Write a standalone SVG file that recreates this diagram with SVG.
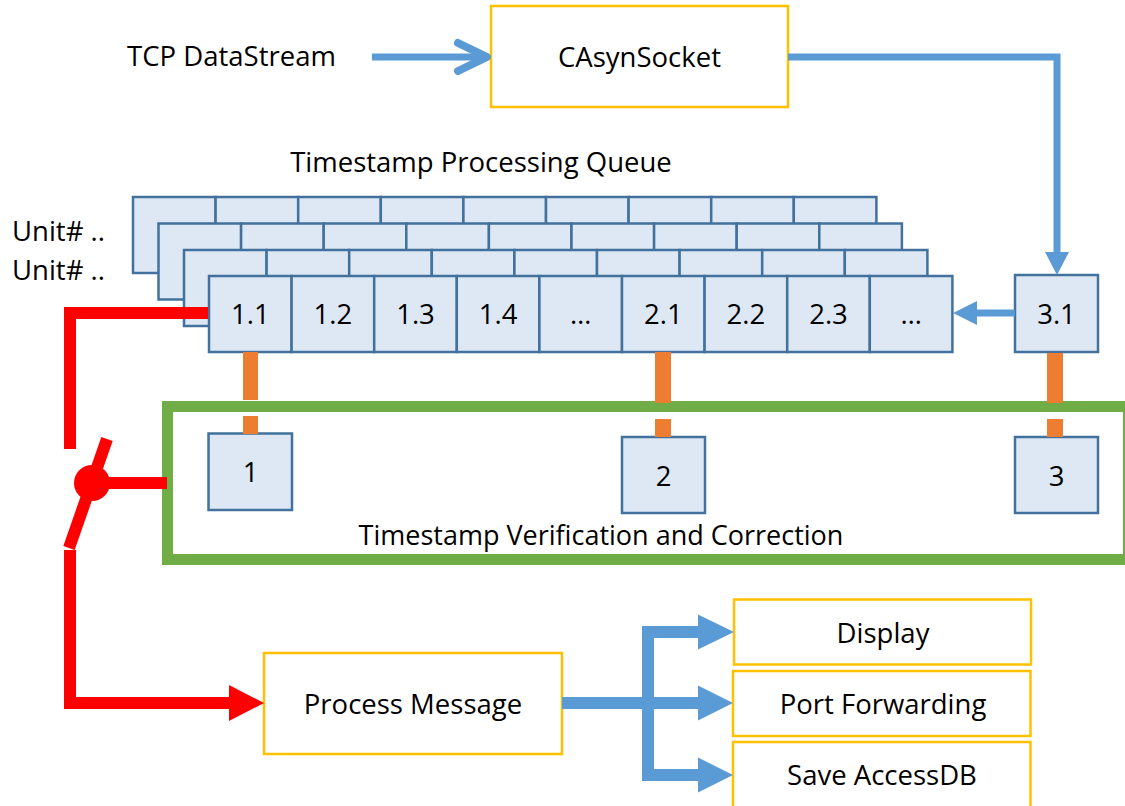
<svg xmlns="http://www.w3.org/2000/svg" width="1125" height="806" viewBox="0 0 1125 806">
  <style>
    text { font-family: "Open Sans", "Noto Sans", "DejaVu Sans", sans-serif; font-size: 27.5px; fill: #000; }
    .mid { text-anchor: middle; }
    .cell { fill: #dee8f4; stroke: #41719c; stroke-width: 2.5; }
    .gold { fill: #fff; stroke: #ffc000; stroke-width: 2.5; }
    .blue { fill: none; stroke: #5b9bd5; stroke-width: 7; }
    .blueFat { fill: none; stroke: #5b9bd5; stroke-width: 12; stroke-linejoin: miter; }
    .blueHead { fill: #5b9bd5; }
    .red { fill: none; stroke: #ff0000; stroke-width: 12; stroke-linejoin: miter; }
    .redFill { fill: #ff0000; }
    .orange { fill: #ed7d31; }
  </style>
  <defs>
    <!-- one layer of the queue: nine cells -->
    <g id="queueRow">
      <rect class="cell" x="0" y="0" width="82.6" height="76"/>
      <rect class="cell" x="82.6" y="0" width="82.6" height="76"/>
      <rect class="cell" x="165.2" y="0" width="82.6" height="76"/>
      <rect class="cell" x="247.8" y="0" width="82.6" height="76"/>
      <rect class="cell" x="330.4" y="0" width="82.6" height="76"/>
      <rect class="cell" x="413" y="0" width="82.6" height="76"/>
      <rect class="cell" x="495.6" y="0" width="82.6" height="76"/>
      <rect class="cell" x="578.2" y="0" width="82.6" height="76"/>
      <rect class="cell" x="660.8" y="0" width="82.6" height="76"/>
    </g>
  </defs>

  <rect width="1125" height="806" fill="#fff"/>

  <!-- verification frame -->
  <g id="verification">
    <rect x="167.5" y="406.5" width="961" height="153" fill="none" stroke="#70ad47" stroke-width="11"/>
    <text class="mid" x="601" y="545" style="font-size:27px">Timestamp Verification and Correction</text>
  </g>

  <!-- input side -->
  <g id="tcp-stream">
    <text class="mid" x="231.5" y="66">TCP DataStream</text>
  </g>
  <g id="casynsocket">
    <rect class="gold" x="491" y="6" width="297" height="101"/>
    <text class="mid" x="639.5" y="67">CAsynSocket</text>
  </g>

  <!-- processing queue -->
  <g id="queue">
    <text class="mid" x="481" y="172">Timestamp Processing Queue</text>
    <text x="12" y="241">Unit# ..</text>
    <text x="12" y="280">Unit# ..</text>
    <use href="#queueRow" x="133" y="197"/>
    <use href="#queueRow" x="158.5" y="223.5"/>
    <use href="#queueRow" x="184" y="250"/>
    <use href="#queueRow" x="209" y="276"/>
    <text class="mid" x="250.3" y="324">1.1</text>
    <text class="mid" x="332.9" y="324">1.2</text>
    <text class="mid" x="415.5" y="324">1.3</text>
    <text class="mid" x="498.1" y="324">1.4</text>
    <text class="mid" x="580.7" y="324">…</text>
    <text class="mid" x="663.3" y="324">2.1</text>
    <text class="mid" x="745.9" y="324">2.2</text>
    <text class="mid" x="828.5" y="324">2.3</text>
    <text class="mid" x="911.1" y="324">…</text>
  </g>
  <g id="cell-3-1">
    <rect class="cell" x="1015" y="275" width="83" height="77"/>
    <text class="mid" x="1056.5" y="324">3.1</text>
  </g>

  <!-- verification units -->
  <g id="unit-1">
    <rect class="cell" x="208.5" y="433.5" width="83.5" height="76.5"/>
    <text class="mid" x="250.5" y="482">1</text>
  </g>
  <g id="unit-2">
    <rect class="cell" x="622" y="437" width="83" height="76"/>
    <text class="mid" x="663.5" y="486">2</text>
  </g>
  <g id="unit-3">
    <rect class="cell" x="1015" y="437" width="83" height="76"/>
    <text class="mid" x="1056.5" y="486">3</text>
  </g>

  <!-- output side -->
  <g id="process-message">
    <rect class="gold" x="264" y="653" width="298" height="101"/>
    <text class="mid" x="413" y="714">Process Message</text>
  </g>
  <g id="display">
    <rect class="gold" x="734" y="599.5" width="297" height="65"/>
    <text class="mid" x="883" y="643">Display</text>
  </g>
  <g id="port-forwarding">
    <rect class="gold" x="733" y="671" width="297.5" height="65"/>
    <text class="mid" x="883" y="714">Port Forwarding</text>
  </g>
  <g id="save-accessdb">
    <rect class="gold" x="733" y="742" width="297.5" height="75"/>
    <text class="mid" x="882" y="785">Save AccessDB</text>
  </g>

  <!-- connectors -->
  <g id="connectors">
    <!-- stream into socket -->
    <line class="blue" x1="372" y1="57" x2="486" y2="57"/>
    <polyline points="458,43 487,57 458,71" fill="none" stroke="#5b9bd5" stroke-width="8" stroke-linecap="round" stroke-linejoin="round"/>
    <!-- socket to cell 3.1 -->
    <polyline class="blue" points="788,57 1057,57 1057,253" stroke-linejoin="miter"/>
    <polygon class="blueHead" points="1045,252 1069,252 1057,275"/>
    <!-- cell 3.1 into queue -->
    <line class="blue" x1="1015" y1="313" x2="975" y2="313"/>
    <polygon class="blueHead" points="977,301 977,325 953,313"/>

    <!-- queue to verification units -->
    <rect class="orange" x="243" y="352" width="15" height="48"/>
    <rect class="orange" x="243" y="416" width="15" height="18"/>
    <rect class="orange" x="655" y="352" width="16" height="51"/>
    <rect class="orange" x="655" y="419" width="16" height="18"/>
    <rect class="orange" x="1047" y="353" width="16" height="50"/>
    <rect class="orange" x="1047" y="419" width="16" height="18"/>

    <!-- switch -->
    <polyline class="red" points="70,449 70,313 208,313"/>
    <line class="red" x1="107" y1="439" x2="69" y2="548"/>
    <circle class="redFill" cx="92" cy="483" r="18"/>
    <line class="red" x1="92" y1="483" x2="167" y2="483"/>
    <polyline class="red" points="70,550 70,703 231,703"/>
    <polygon class="redFill" points="229,685 264,703 229,721"/>

    <!-- fan-out to outputs -->
    <line class="blueFat" x1="562" y1="703" x2="700" y2="703"/>
    <polyline class="blueFat" points="700,632 648,632 648,775 700,775"/>
    <polygon class="blueHead" points="698,614.5 734,632 698,649.5"/>
    <polygon class="blueHead" points="698,685.5 733,703 698,720.5"/>
    <polygon class="blueHead" points="698,757.5 733,775 698,792.5"/>
  </g>
</svg>
